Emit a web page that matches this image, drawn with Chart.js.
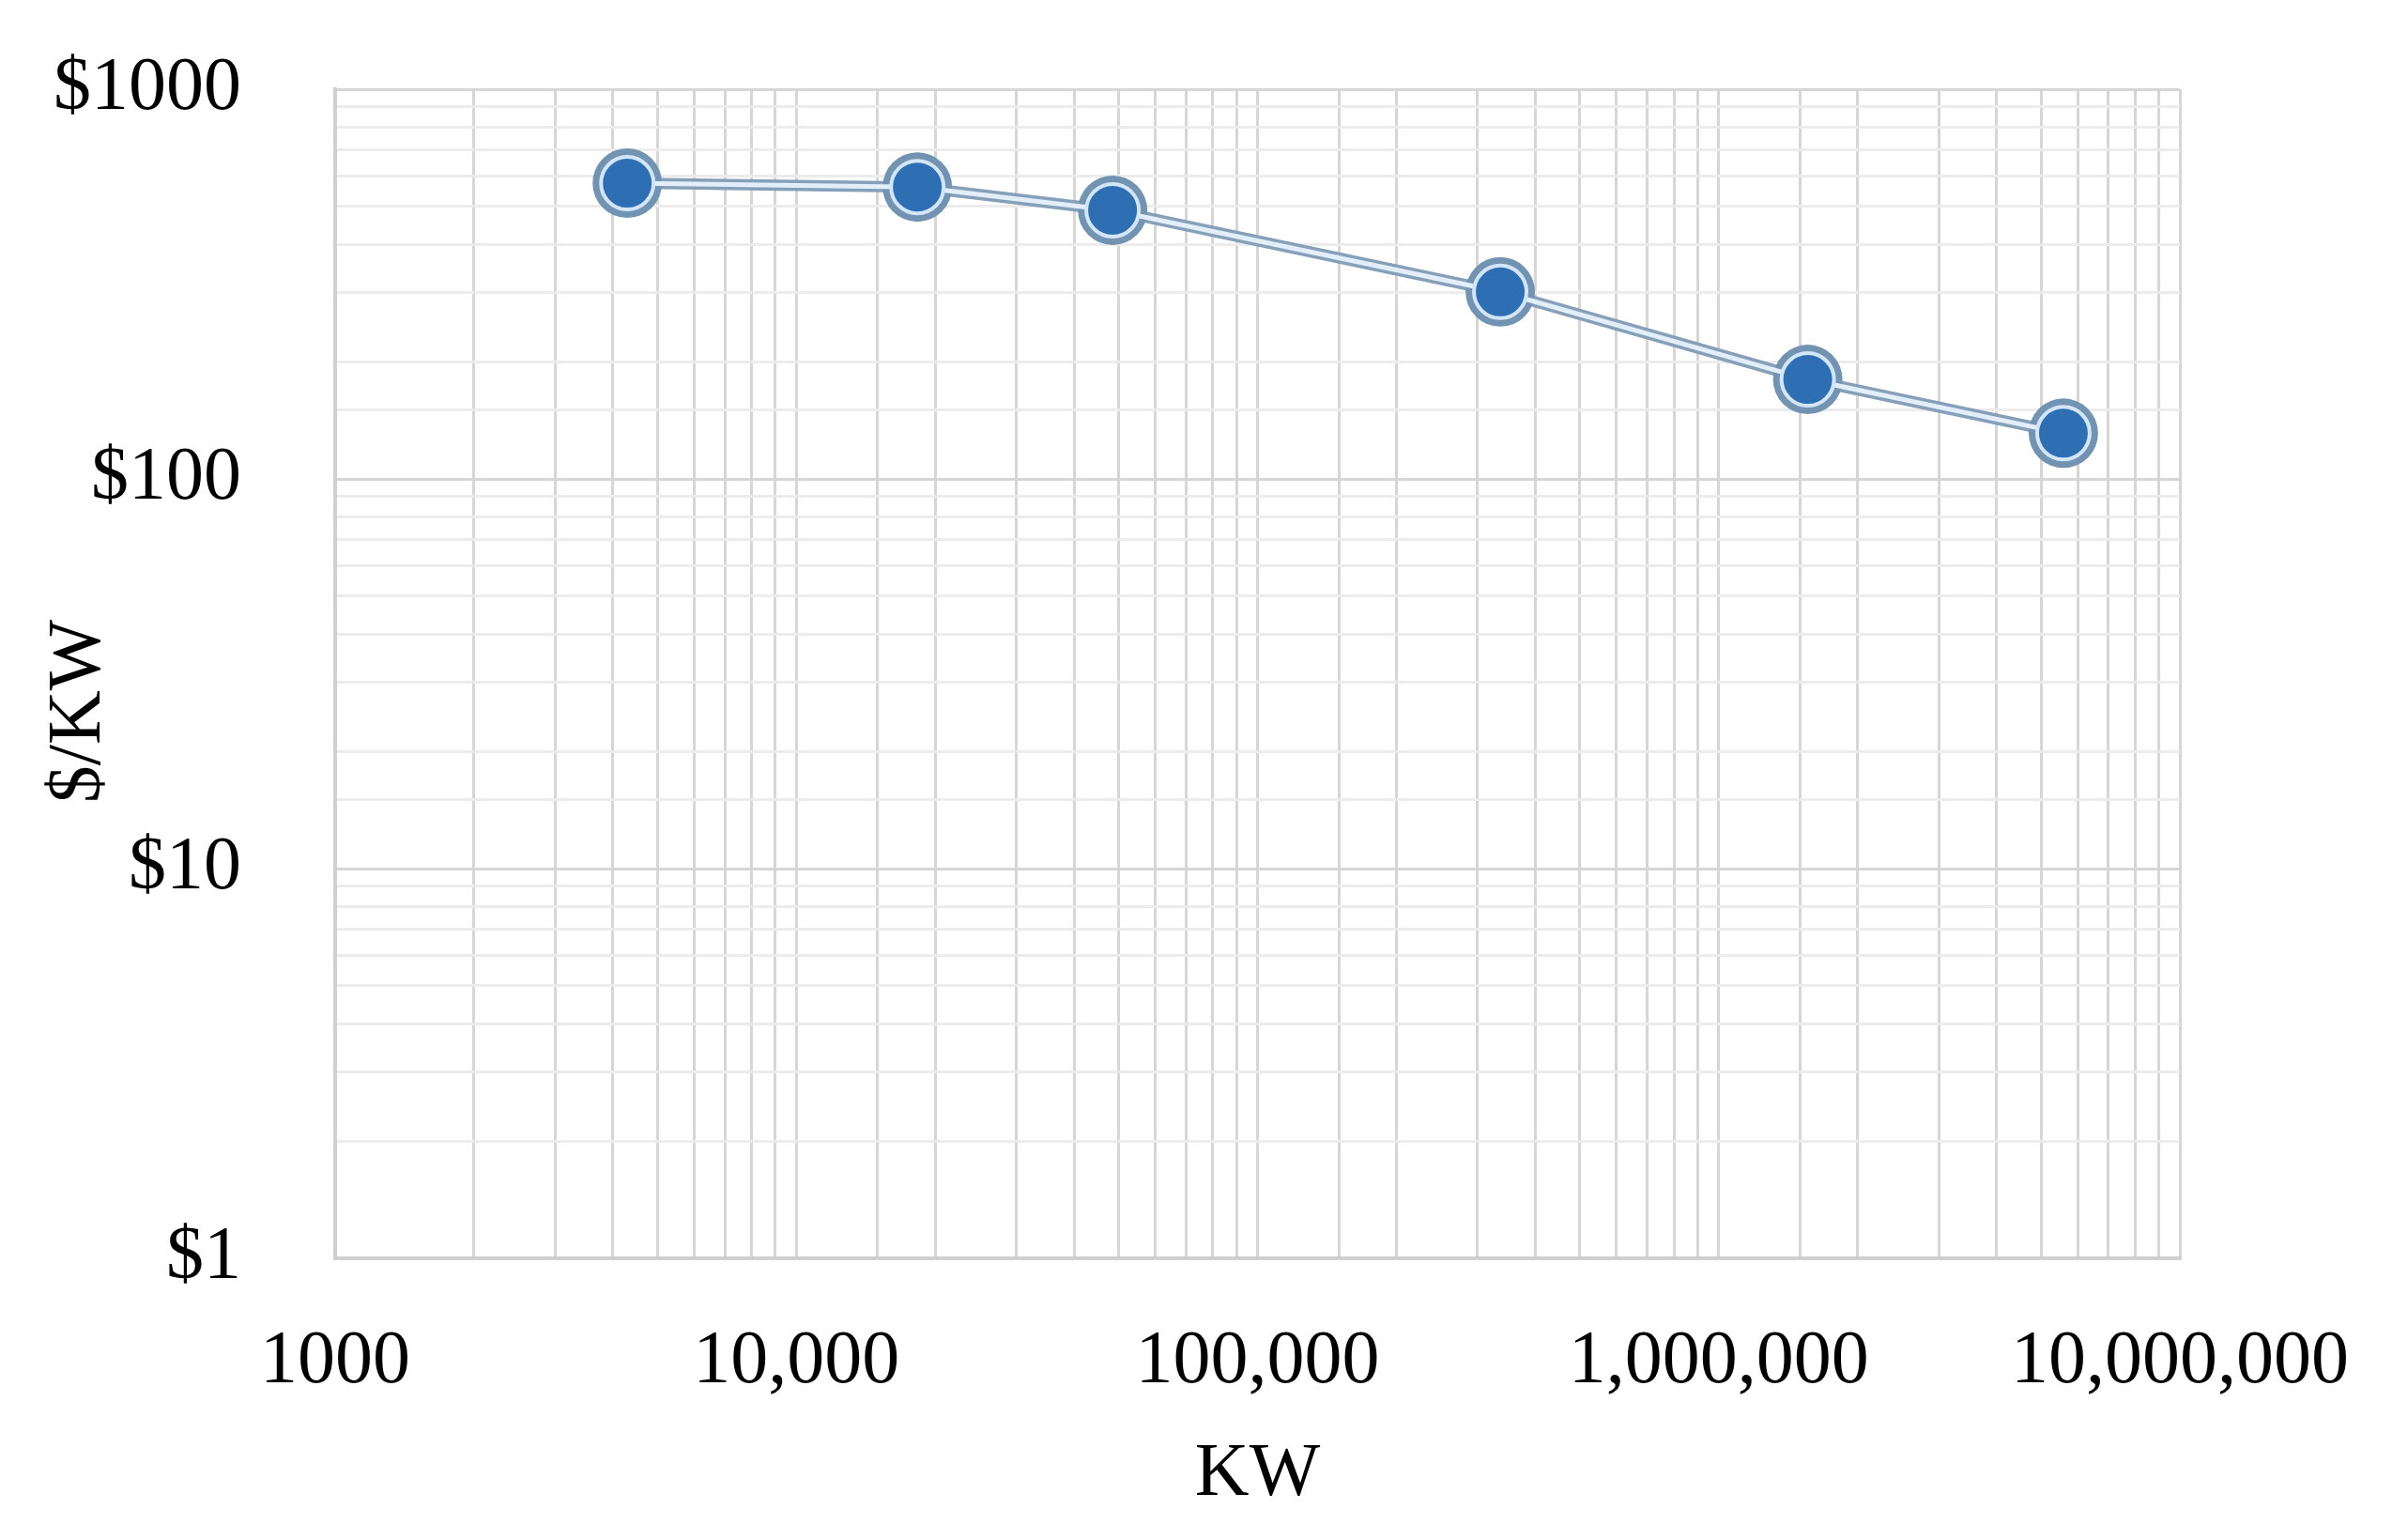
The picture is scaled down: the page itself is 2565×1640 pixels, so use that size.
<!DOCTYPE html>
<html>
<head>
<meta charset="utf-8">
<script src="https://cdn.jsdelivr.net/npm/chart.js@4"></script>
<style>
  html, body { margin: 0; padding: 0; background: #fff; }
  #wrap { width: 2565px; height: 1640px; }
</style>
</head>
<body>
<div id="wrap"><canvas id="costChart"></canvas></div>
<script>
// plant size (KW) vs cost per KW
const kwValues = [4300, 18300, 48500, 336000, 1560000, 5590000];
const costPerKw = [574, 561, 489, 302, 180, 131];

const xTickValues = [1000, 10000, 100000, 1000000, 10000000];
const xTickLabels = ['1000', '10,000', '100,000', '1,000,000', '10,000,000'];
const yTickValues = [1, 10, 100, 1000];
const yTickLabels = ['$1', '$10', '$100', '$1000'];

const points = kwValues.map((kw, i) => ({ x: kw, y: costPerKw[i] }));
const font = { family: '"Liberation Serif", "Times New Roman", serif', size: 80 };

const isDecade = v => Math.abs(Math.log10(v) - Math.round(Math.log10(v))) < 1e-9;

new Chart(document.getElementById('costChart'), {
  type: 'line',
  data: {
    datasets: [
      {
        // light inner stroke + marker
        data: points,
        borderColor: '#e2eefa',
        borderWidth: 5,
        pointRadius: 28,
        pointBackgroundColor: '#2e6fb4',
        pointBorderColor: '#d3e6f8',
        pointBorderWidth: 4,
        tension: 0,
      },
      {
        // dark outer stroke + marker ring
        data: points,
        borderColor: '#86a0ba',
        borderWidth: 12,
        pointRadius: 37,
        pointBackgroundColor: '#7393b2',
        pointBorderWidth: 0,
        tension: 0,
      },
    ],
  },
  options: {
    responsive: true,
    maintainAspectRatio: false,
    animation: false,
    layout: { autoPadding: false, padding: { top: 95, right: 243, left: 0, bottom: 0 } },
    plugins: { legend: { display: false }, tooltip: { enabled: false } },
    scales: {
      x: {
        type: 'logarithmic',
        min: 1000,
        max: 10000000,
        afterFit: scale => { scale.height = 300; },
        border: { color: '#d0d0d0', width: 4 },
        grid: { color: '#d6d6d6', lineWidth: 3, drawTicks: false },
        ticks: {
          autoSkip: false,
          maxRotation: 0,
          minRotation: 0,
          padding: 63,
          color: '#000',
          font: font,
          callback: value => {
            const i = xTickValues.indexOf(value);
            return i >= 0 ? xTickLabels[i] : '';
          },
        },
        title: { display: true, text: 'KW', color: '#000', font: font, padding: { top: 0, bottom: 21 } },
      },
      y: {
        type: 'logarithmic',
        min: 1,
        max: 1000,
        afterFit: scale => { scale.width = 357; },
        border: { color: '#d0d0d0', width: 4 },
        grid: {
          color: ctx => (ctx.tick && isDecade(ctx.tick.value) ? '#d6d6d6' : '#ececec'),
          lineWidth: 3,
          drawTicks: true,
          tickLength: 100,
          tickColor: 'rgba(0,0,0,0)',
        },
        ticks: {
          autoSkip: false,
          padding: 0,
          color: '#000',
          font: font,
          callback: value => {
            const i = yTickValues.indexOf(value);
            return i >= 0 ? yTickLabels[i] : '';
          },
        },
        // trailing en spaces nudge the rotated title a bit lower, like the original
        title: { display: true, text: '$/KW\u2002\u2002', color: '#000', font: font, padding: { top: 37, bottom: 0 } },
      },
    },
  },
});
</script>
</body>
</html>
